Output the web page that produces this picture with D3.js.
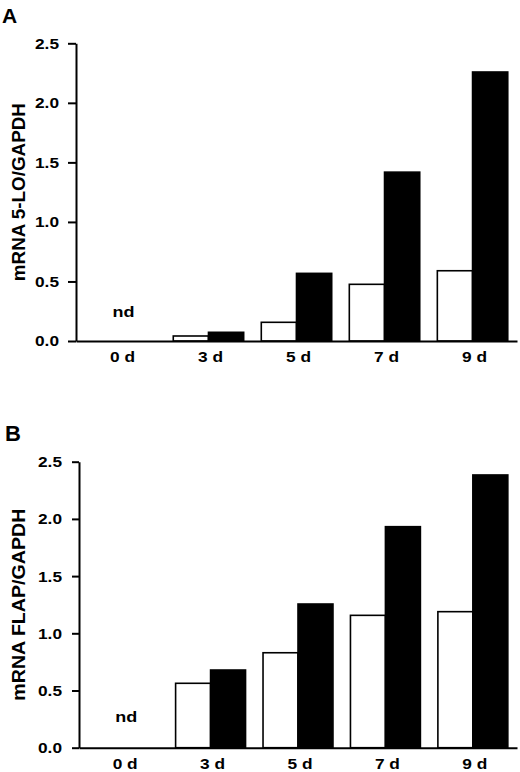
<!DOCTYPE html>
<html><head><meta charset="utf-8">
<script src="https://cdn.jsdelivr.net/npm/d3@7"></script>
<style>
html,body{margin:0;padding:0;background:#fff;}
svg text{font-family:"Liberation Sans",Arial,Helvetica,sans-serif;font-weight:bold;fill:#000;}
</style></head>
<body>
<svg id="c" width="520" height="772"></svg>
<script>
const categories = ["0 d","3 d","5 d","7 d","9 d"];
const series = ["control","treated"];
const yTicks = [0,0.5,1.0,1.5,2.0,2.5];
// Panel A: mRNA 5-LO/GAPDH (null = not detected)
const loControl = [null,0.042,0.157,0.476,0.590];
const loTreated = [null,0.073,0.568,1.418,2.259];
// Panel B: mRNA FLAP/GAPDH
const flapControl = [null,0.563,0.830,1.157,1.189];
const flapTreated = [null,0.679,1.256,1.932,2.384];
const panelLetters = ["A","B"];
const yTitles = ["mRNA 5-LO/GAPDH","mRNA FLAP/GAPDH"];
const ndLabel = "nd";

const svg = d3.select("#c");

const panels = [
  {letter:panelLetters[0], title:yTitles[0], ctrl:loControl, trt:loTreated,
   x0:76, x1:517, y0:341, y1:43.3, letterX:2, letterY:23, letterSize:21,
   tickLen:8, tickPad:9, titleLen:178, ndBase:317},
  {letter:panelLetters[1], title:yTitles[1], ctrl:flapControl, trt:flapTreated,
   x0:79, x1:517, y0:747.7, y1:461.7, letterX:5, letterY:441, letterSize:22,
   tickLen:7, tickPad:10, titleLen:192, ndBase:721.5}
];

panels.forEach(p => {
  const g = svg.append("g");
  const x = d3.scaleBand().domain(categories).range([p.x0, p.x1])
    .paddingInner(0.2).paddingOuter(0.105);
  const xs = d3.scaleBand().domain(series).range([0, x.bandwidth()]);
  const y = d3.scaleLinear().domain([0,2.5]).range([p.y0, p.y1]);

  // bars
  categories.forEach((c,i) => {
    [[series[0], p.ctrl[i], "#fff"],[series[1], p.trt[i], "#000"]].forEach(([s,v,fill]) => {
      if (v == null) return;
      g.append("rect")
        .attr("x", x(c) + xs(s))
        .attr("y", y(v))
        .attr("width", xs.bandwidth())
        .attr("height", y(0) - y(v))
        .attr("fill", fill)
        .attr("stroke", "#000")
        .attr("stroke-width", 1.6);
    });
    if (p.ctrl[i] == null && p.trt[i] == null) {
      g.append("text")
        .attr("x", x(c) + x.bandwidth()/2 + 3)
        .attr("y", p.ndBase)
        .attr("text-anchor","middle")
        .attr("textLength", 22).attr("lengthAdjust","spacingAndGlyphs")
        .style("font-size","15.5px")
        .text(ndLabel);
    }
  });

  // y axis
  const ya = g.append("g").attr("transform", `translate(${p.x0},0)`)
    .call(d3.axisLeft(y).tickValues(yTicks).tickFormat(d3.format(".1f"))
      .tickSize(p.tickLen).tickSizeOuter(0).tickPadding(p.tickPad));
  ya.attr("font-size", null).attr("font-family", null);
  ya.select(".domain").attr("stroke","#000").attr("stroke-width",2);
  ya.selectAll(".tick line").attr("stroke","#000").attr("stroke-width",2);
  ya.selectAll(".tick text").style("font-size","15.5px")
    .attr("textLength", 24).attr("lengthAdjust","spacingAndGlyphs")
    .attr("fill","#000");

  // x axis
  const xa = g.append("g").attr("transform", `translate(0,${p.y0})`)
    .call(d3.axisBottom(x).tickSize(0).tickSizeOuter(0).tickPadding(10));
  xa.attr("font-size", null).attr("font-family", null);
  xa.select(".domain").attr("stroke","#000").attr("stroke-width",2);
  xa.selectAll(".tick text").style("font-size","15.5px")
    .attr("dy", null).attr("y", 21).attr("dx", 2)
    .attr("textLength", 25).attr("lengthAdjust","spacingAndGlyphs")
    .attr("fill","#000");

  // y title
  const cy = (p.y0 + p.y1)/2;
  g.append("text")
    .attr("transform", `translate(25,${cy}) rotate(-90)`)
    .attr("text-anchor","middle")
    .attr("textLength", p.titleLen).attr("lengthAdjust","spacingAndGlyphs")
    .style("font-size","18px")
    .text(p.title);

  // panel letter
  g.append("text")
    .attr("x", p.letterX).attr("y", p.letterY)
    .style("font-size", p.letterSize + "px")
    .text(p.letter);
});
</script>
</body></html>
